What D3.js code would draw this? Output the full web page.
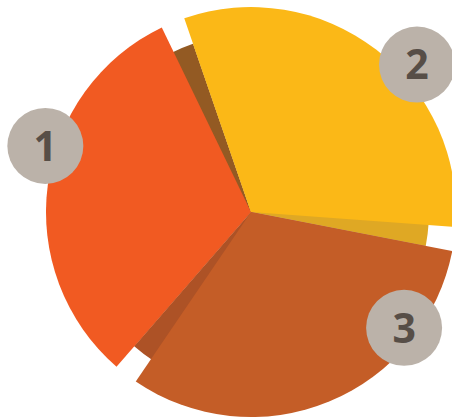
<!DOCTYPE html>
<html>
<head>
<meta charset="utf-8">
<script src="https://cdn.jsdelivr.net/npm/d3@7"></script>
<style>
  body { margin: 0; background: #fff; }
  svg { display: block; }
</style>
</head>
<body>
<div class="chart"></div>
<script>
// data
const labels = ['1', '2', '3'];
const values = [1, 1, 1];
const colors = ['#F15A22', '#FBB817', '#C45D27'];
const shadowColors = ['#935A23', '#DFA824', '#AD5226'];

const width = 452;
const height = 418;
const cx = 251;
const cy = 212;
const radius = 205;
const shadowRadius = 178;
const deg = Math.PI / 180;

// where each badge sits: fraction along the slice, distance from centre
const badgeSpots = [
  { t: 0.585, r: 216 },
  { t: 0.59, r: 222 },
  { t: 0.246, r: 192 },
];

const svg = d3.select('.chart')
  .append('svg')
  .attr('width', width)
  .attr('height', height)
  .append('g')
  .attr('transform', `translate(${cx}, ${cy})`);

const pie = d3.pie()
  .sort(null)
  .startAngle(-142.4 * deg)
  .endAngle(217.6 * deg)
  .padAngle(6.8 * deg);

const slices = pie(values.map((v, i) => ({ v, i })).map(d => d.v))
  .map((d, i) => Object.assign(d, { i }));

const arc = d3.arc().innerRadius(0).outerRadius(radius);
const shadowArc = d3.arc().innerRadius(0).outerRadius(shadowRadius);

// darker layer underneath, shifted by half the gap so it shows in the gaps
svg.selectAll('path.shadow')
  .data(slices)
  .enter()
  .append('path')
  .attr('class', 'shadow')
  .attr('d', d => shadowArc({
    startAngle: d.startAngle + d.padAngle / 2,
    endAngle: d.endAngle + d.padAngle / 2,
  }))
  .style('fill', d => shadowColors[d.i]);

svg.selectAll('path.slice')
  .data(slices)
  .enter()
  .append('path')
  .attr('class', 'slice')
  .attr('d', arc)
  .style('fill', d => colors[d.i]);

const badges = svg.selectAll('g.badge')
  .data(slices)
  .enter()
  .append('g')
  .attr('class', 'badge')
  .attr('transform', d => {
    const s = badgeSpots[d.i];
    const a = d.startAngle + s.t * (d.endAngle - d.startAngle);
    return `translate(${s.r * Math.sin(a)}, ${-s.r * Math.cos(a)})`;
  });

badges.append('circle')
  .attr('r', 38)
  .style('fill', '#BBB2A9');

badges.append('text')
  .attr('text-anchor', 'middle')
  .attr('dy', '0.36em')
  .style('font-family', '"Open Sans", sans-serif')
  .style('font-weight', 700)
  .style('font-size', '41px')
  .style('fill', '#574E47')
  .text(d => labels[d.i]);
</script>
</body>
</html>
